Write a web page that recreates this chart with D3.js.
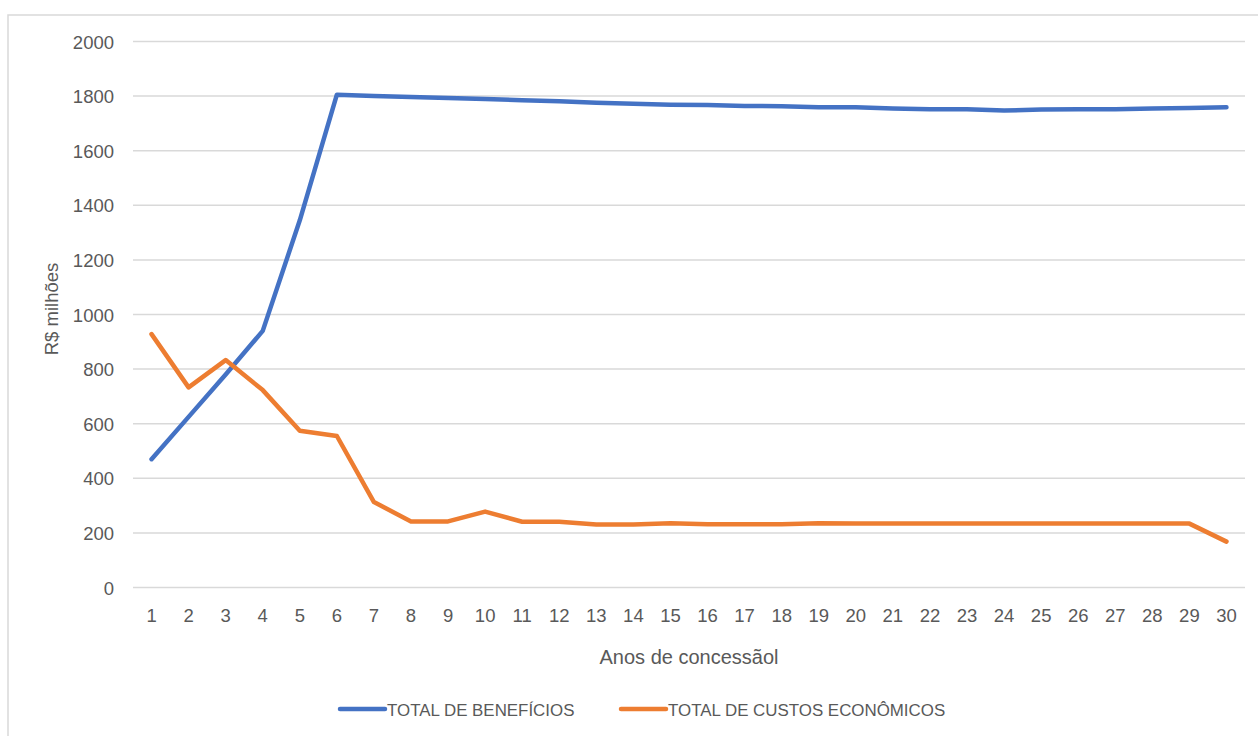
<!DOCTYPE html>
<html>
<head>
<meta charset="utf-8">
<script src="https://cdn.jsdelivr.net/npm/d3@7/dist/d3.min.js"></script>
<style>
  html, body { margin: 0; padding: 0; background: #fff; }
  svg { display: block; }
  text { font-family: "Liberation Sans", Arial, sans-serif; fill: #595959; }
</style>
</head>
<body>
<svg id="chart" width="1258" height="736"></svg>
<script>
// Years of the concession
const anos = d3.range(1, 31);

// Total benefits (R$ millions) per year
const totalBeneficios = [
  470, 625, 780, 940, 1345, 1805, 1800, 1797, 1793, 1789,
  1785, 1781, 1776, 1772, 1768, 1767, 1764, 1763, 1759, 1759,
  1755, 1752, 1752, 1747, 1751, 1752, 1752, 1755, 1756, 1759
];

// Total economic costs (R$ millions) per year
const totalCustos = [
  928, 733, 833, 723, 574, 555, 313, 242, 242, 278,
  241, 241, 231, 231, 235, 232, 232, 232, 235, 234,
  234, 234, 234, 234, 234, 234, 234, 234, 234, 168
];

const yTicks = [0, 200, 400, 600, 800, 1000, 1200, 1400, 1600, 1800, 2000];

const seriesNames = ["TOTAL DE BENEFÍCIOS", "TOTAL DE CUSTOS ECONÔMICOS"];
const seriesColors = ["#4472C4", "#ED7D31"];

const svg = d3.select("#chart");

// outer chart frame
svg.append("rect")
  .attr("x", 8).attr("y", 15)
  .attr("width", 1270).attr("height", 740)
  .attr("fill", "#fff")
  .attr("stroke", "#d9d9d9")
  .attr("stroke-width", 1.5);

const plot = { left: 133, right: 1245, top: 41.5, bottom: 587.5 };

const x = d3.scaleBand()
  .domain(anos)
  .range([plot.left, plot.right]);

const y = d3.scaleLinear()
  .domain([0, 2000])
  .range([plot.bottom, plot.top]);

// horizontal gridlines
svg.append("g")
  .selectAll("line")
  .data(yTicks)
  .join("line")
  .attr("x1", plot.left).attr("x2", plot.right)
  .attr("y1", d => y(d)).attr("y2", d => y(d))
  .attr("stroke", "#d9d9d9")
  .attr("stroke-width", 1.5);

// y axis labels
const yAxis = d3.axisLeft(y).tickValues(yTicks).tickFormat(d3.format("d")).tickSize(0).tickPadding(0);
const gy = svg.append("g")
  .attr("transform", `translate(${plot.left - 19},0)`)
  .call(yAxis);
gy.select(".domain").remove();
gy.selectAll("text")
  .attr("font-size", 18.5)
  .attr("font-family", "Liberation Sans, Arial, sans-serif")
  .attr("fill", "#595959")
  .attr("dy", "0.36em");

// x axis labels
const xAxis = d3.axisBottom(x).tickSize(0).tickPadding(0);
const gx = svg.append("g")
  .attr("transform", `translate(0,${plot.bottom})`)
  .call(xAxis);
gx.select(".domain").remove();
gx.selectAll("text")
  .attr("font-size", 18.5)
  .attr("font-family", "Liberation Sans, Arial, sans-serif")
  .attr("fill", "#595959")
  .attr("dy", 0)
  .attr("y", 34);

// axis titles
svg.append("text")
  .attr("x", 689).attr("y", 664)
  .attr("text-anchor", "middle")
  .attr("font-size", 20)
  .text("Anos de concessãol");

svg.append("text")
  .attr("transform", "translate(58,309) rotate(-90)")
  .attr("text-anchor", "middle")
  .attr("font-size", 18.5)
  .text("R$ milhões");

// series lines
const line = d3.line()
  .x((d, i) => x(anos[i]) + x.bandwidth() / 2)
  .y(d => y(d));

[totalBeneficios, totalCustos].forEach((vals, k) => {
  svg.append("path")
    .datum(vals)
    .attr("d", line)
    .attr("fill", "none")
    .attr("stroke", seriesColors[k])
    .attr("stroke-width", 4.5)
    .attr("stroke-linejoin", "round")
    .attr("stroke-linecap", "round");
});

// legend
const legendItems = [
  { x: 340, name: seriesNames[0], color: seriesColors[0] },
  { x: 621, name: seriesNames[1], color: seriesColors[1] }
];
const lg = svg.append("g").selectAll("g")
  .data(legendItems)
  .join("g")
  .attr("transform", d => `translate(${d.x},709)`);
lg.append("line")
  .attr("x1", 0).attr("x2", 45)
  .attr("y1", 0).attr("y2", 0)
  .attr("stroke", d => d.color)
  .attr("stroke-width", 4.5)
  .attr("stroke-linecap", "round");
lg.append("text")
  .attr("x", 47).attr("y", 7)
  .attr("font-size", 16.9)
  .text(d => d.name);
</script>
</body>
</html>
